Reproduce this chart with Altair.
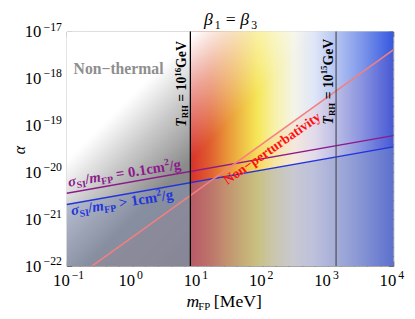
import math
import altair as alt
import pandas as pd

SERIF = "Liberation Serif"

# ---------------- data ----------------
x_domain = [0.1, 1e4]          # m_FP [MeV]
y_domain = [1e-22, 1e-17]      # alpha
m_trh16 = 7.8                  # T_RH = 10^16 GeV boundary
m_trh15 = 1330.0               # T_RH = 10^15 GeV boundary
sig01_m = [0.1, 1e4]           # sigma_SI/m = 0.1 cm^2/g
sig01_alpha = [10 ** -20.45, 10 ** -19.22]
sig1_m = [0.1, 1e4]            # sigma_SI/m > 1 cm^2/g
sig1_alpha = [10 ** -20.69, 10 ** -19.46]
pert_m = [10 ** -0.61, 1e4]    # non-perturbativity boundary
pert_alpha = [1e-22, 10 ** -17.39]

x_major = [0.1, 1, 10, 100, 1000, 10000]
x_exps = ["−1", "0", "1", "2", "3", "4"]
y_major = [1e-22, 1e-21, 1e-20, 1e-19, 1e-18, 1e-17]
y_exps = ["−22", "−21", "−20", "−19", "−18", "−17"]
x_minor = [10 ** (k / 5) for k in range(-5, 21) if k % 5]
y_minor = [10 ** (k / 5) for k in range(-110, -84) if k % 5]

W, H = 333, 239

xs = alt.Scale(type="log", domain=x_domain, nice=False)
ys = alt.Scale(type="log", domain=y_domain, nice=False)


def X(f, axis=None):
    return alt.X(f, type="quantitative", scale=xs, axis=axis)


def Y(f, axis=None):
    return alt.Y(f, type="quantitative", scale=ys, axis=axis)


def mk_axis(orient, values, size):
    return alt.Axis(orient=orient, values=values, tickSize=alt.ExprRef(expr=str(-size)),
                    ticks=True, domain=False, grid=False, labels=False, title=None,
                    tickColor="#555555", tickWidth=0.8)


def grad(stops, x1=0, y1=0, x2=1, y2=0):
    return alt.Gradient(gradient="linear",
                        stops=[alt.GradientStop(color=c, offset=o) for o, c in stops],
                        x1=x1, y1=y1, x2=x2, y2=y2)


# ---------- text width estimate (Times-like metrics, per 1000 em) ----------
W_REG = {" ": 250, "[": 333, "]": 333, "M": 889, "e": 444, "V": 722, "m": 778, "=": 564, "−": 564}
W_BOLD = {" ": 250, "=": 570, ">": 570, ".": 250, "/": 278, "c": 444, "m": 833, "g": 500,
          "G": 778, "e": 444, "V": 722, "R": 722, "H": 778, "S": 556, "I": 389, "F": 611,
          "P": 611, "T": 667}
W_BI = {"T": 611, "m": 778, "σ": 560}
W_I = {"m": 722, "β": 560}


def twidth(t, size, style, weight):
    if weight == "bold" and style == "italic":
        tab = W_BI
    elif weight == "bold":
        tab = W_BOLD
    elif style == "italic":
        tab = W_I
    else:
        tab = W_REG
    return sum(tab.get(ch, 500) for ch in t) * size / 1000.0


one = pd.DataFrame({"k": [0]})


def rich(segs, color, angle=0, data_xy=None, px_xy=None, ddx=0, ddy=0):
    """segs: (text, size, style, weight, baseline shift[, explicit dx])"""
    layers = []
    pos = 0.0
    for seg in segs:
        t, size, style, weight, shift = seg[:5]
        lead = len(t) - len(t.lstrip(" "))
        trail = len(t) - len(t.rstrip(" "))
        txt = t.strip(" ")
        pos_here = seg[5] if len(seg) > 5 else pos + twidth(" " * lead, size, style, weight)
        mk = dict(text=txt, dx=ddx + pos_here, dy=ddy + shift, align="left",
                  baseline="alphabetic", font=SERIF, fontSize=size, fontStyle=style,
                  fontWeight=weight, color=color)
        if angle:
            mk["angle"] = angle
        if data_xy is not None:
            df = pd.DataFrame({"x": [data_xy[0]], "y": [data_xy[1]]})
            enc = dict(x=X("x"), y=Y("y"))
        else:
            df = one
            enc = dict(x=alt.value(px_xy[0]), y=alt.value(px_xy[1]))
        layers.append(alt.Chart(df).mark_text(**mk).encode(**enc))
        pos = pos_here + twidth(txt, size, style, weight) + twidth(" " * trail, size, style, weight)
    return layers


# ---------------- background fills ----------------
gray_df = pd.DataFrame({"x": [x_domain[0]], "x2": [m_trh16], "y": [y_domain[0]], "y2": [y_domain[1]]})
rain_df = pd.DataFrame({"x": [m_trh16], "x2": [x_domain[1]], "y": [y_domain[0]], "y2": [y_domain[1]]})
full_df = pd.DataFrame({"x": [x_domain[0]], "x2": [x_domain[1]], "y": [y_domain[0]], "y2": [y_domain[1]]})

gray = alt.Chart(gray_df).mark_rect(
    fill=grad([(0, "#a8a8a8"), (1, "#7e7e7e")], 0, 0, 0.63, 1.195), strokeWidth=0
).encode(x=X("x"), x2="x2", y=Y("y"), y2="y2")

rainbow = alt.Chart(rain_df).mark_rect(
    fill=grad([(0, "#d8302a"), (0.10, "#e06030"), (0.174, "#e89038"), (0.27, "#f0c848"),
               (0.33, "#f6e658"), (0.415, "#f7f1a8"), (0.51, "#f4f4e8"), (0.61, "#dfe6f7"),
               (0.72, "#b4c4f2"), (0.85, "#7c95ea"), (1, "#3558e0")]),
    strokeWidth=0
).encode(x=X("x"), x2="x2", y=Y("y"), y2="y2")

white_fade = alt.Chart(full_df).mark_rect(
    fill=grad([(0, "rgba(255,255,255,1)"), (0.23, "rgba(255,255,255,1)"),
               (0.33, "rgba(255,255,255,0.5)"), (0.45, "rgba(255,255,255,0)"),
               (1, "rgba(255,255,255,0)")], 0, 0, 1.134, 0.814),
    strokeWidth=0
).encode(x=X("x"), x2="x2", y=Y("y"), y2="y2")

sig1_df = pd.DataFrame({"m": sig1_m, "a": sig1_alpha, "b": [y_domain[0]] * 2})
sig01_df = pd.DataFrame({"m": sig01_m, "a": sig01_alpha})
pert_df = pd.DataFrame({"m": pert_m, "a": pert_alpha, "b": [y_domain[0]] * 2})

blue_area = alt.Chart(sig1_df).mark_area(color="#8296c3", opacity=0.38).encode(
    x=X("m"), y=Y("a"), y2="b")
pink_area = alt.Chart(pert_df).mark_area(color="#ff7070", opacity=0.09).encode(
    x=X("m"), y=Y("a"), y2="b")

line01 = alt.Chart(sig01_df).mark_line(color="#8b1a8b", strokeWidth=1.4).encode(x=X("m"), y=Y("a"))
line1 = alt.Chart(sig1_df).mark_line(color="#2233dd", strokeWidth=1.4).encode(x=X("m"), y=Y("a"))
linep = alt.Chart(pert_df).mark_line(color="#f38080", strokeWidth=1.6).encode(x=X("m"), y=Y("a"))

rule16 = alt.Chart(pd.DataFrame({"m": [m_trh16]})).mark_rule(color="black", strokeWidth=1.3).encode(x=X("m"))
rule15 = alt.Chart(pd.DataFrame({"m": [m_trh15]})).mark_rule(color="#444444", strokeWidth=1.1).encode(x=X("m"))

# ---------------- labels ----------------
nonthermal = alt.Chart(pd.DataFrame({"x": [0.127], "y": [10 ** -17.9]})).mark_text(
    text="Non−thermal", align="left", baseline="alphabetic", font=SERIF, fontSize=16,
    fontWeight="bold", color="#8e8e8e").encode(x=X("x"), y=Y("y"))

nonpert = alt.Chart(pd.DataFrame({"x": [140.0], "y": [10 ** -19.5]})).mark_text(
    text="Non−perturbativity", align="center", baseline="middle", font=SERIF, fontSize=14,
    fontWeight="bold", color="#ff1010", angle=325).encode(x=X("x"), y=Y("y"))

B, BI = ("normal", "bold"), ("italic", "bold")


def trh_segs(exp):
    return [("T", 14, *BI, 0), ("RH", 9, *B, 2), (" = 10", 14, *B, 0),
            (exp, 9, *B, -6), ("GeV", 14, *B, 0)]


trh16 = rich(trh_segs("16"), "black", angle=270, data_xy=(m_trh16, 10 ** -19.03), ddy=-4)
trh15 = rich(trh_segs("15"), "black", angle=270, data_xy=(m_trh15, 10 ** -18.98), ddy=-3)


def sig_segs(rel):
    return [("σ", 15, *BI, 0), ("SI", 10, *B, 3), ("/", 15, *B, 0), ("m", 15, *BI, 0),
            ("FP", 10, *B, 3), (rel, 15, *B, 0), ("2", 10, *B, -6), ("/g", 15, *B, 0)]


lab01 = rich(sig_segs(" = 0.1cm"), "#8b1a8b", angle=351, data_xy=(10 ** -0.97, 10 ** -20.31))
lab1 = rich(sig_segs(" > 1cm"), "#2233dd", angle=351, data_xy=(10 ** -0.925, 10 ** -20.92))

title = rich([("β", 18, "italic", "normal", 0, 140), ("1", 12, "normal", "normal", 4, 151),
              ("=", 18, "normal", "normal", 0, 162), ("β", 18, "italic", "normal", 0, 177),
              ("3", 12, "normal", "normal", 4, 188)], "black", px_xy=(0, -7))

xtitle = rich([("m", 18, "italic", "normal", 0, 122), ("FP", 11, "normal", "normal", 3, 134),
               ("[MeV]", 18, "normal", "normal", 0, 150)], "black", px_xy=(0, 281))

ytitle = alt.Chart(one).mark_text(text="α", angle=270, align="center", baseline="middle",
                                  font=SERIF, fontSize=16, fontStyle="italic", color="black").encode(
    x=alt.value(-48), y=alt.value(121))

# tick labels drawn through the scales
xl_df = pd.DataFrame({"v": x_major, "e": x_exps})
yl_df = pd.DataFrame({"v": y_major, "e": y_exps})
lab_font = dict(font=SERIF, color="black", baseline="alphabetic")
xlab_base = alt.Chart(xl_df).mark_text(text="10", align="right", dx=3, fontSize=17, **lab_font).encode(
    x=X("v"), y=alt.value(H + 20))
xlab_exp = alt.Chart(xl_df).mark_text(align="left", dx=5, dy=-7, fontSize=12, **lab_font).encode(
    x=X("v"), y=alt.value(H + 20), text="e:N")
ylab_base = alt.Chart(yl_df).mark_text(text="10", align="right", dy=6, fontSize=17, **lab_font).encode(
    y=Y("v"), x=alt.value(-26))
ylab_exp = alt.Chart(yl_df).mark_text(align="right", dy=-1, fontSize=12, **lab_font).encode(
    y=Y("v"), x=alt.value(-5), text="e:N")

# ---------------- axes (ticks only, pointing inward) ----------------
ax_df = pd.DataFrame({"x": x_domain, "y": y_domain})


def carrier(xa, ya):
    return alt.Chart(ax_df).mark_point(opacity=0).encode(x=X("x", xa), y=Y("y", ya))


axes = [
    carrier(mk_axis("bottom", x_major, 5), mk_axis("left", y_major, 5)),
    carrier(mk_axis("top", x_major, 5), mk_axis("right", y_major, 5)),
    carrier(mk_axis("bottom", x_minor, 3), mk_axis("left", y_minor, 3)),
    carrier(mk_axis("top", x_minor, 3), mk_axis("right", y_minor, 3)),
]

layers = ([gray, rainbow, white_fade, pink_area, blue_area, line01, line1, linep, rule16, rule15,
           nonthermal, nonpert] + trh16 + trh15 + lab01 + lab1 + title + xtitle
          + [ytitle, xlab_base, xlab_exp, ylab_base, ylab_exp] + axes)

chart = alt.layer(*layers).resolve_axis(x="independent", y="independent").properties(
    width=W, height=H,
    autosize=alt.AutoSizeParams(type="none"),
    padding={"left": 60, "top": 21, "right": 14, "bottom": 47},
).configure_view(stroke="#999999", strokeWidth=1)

chart.save("out.html", embed_options={"renderer": "svg", "actions": False})
